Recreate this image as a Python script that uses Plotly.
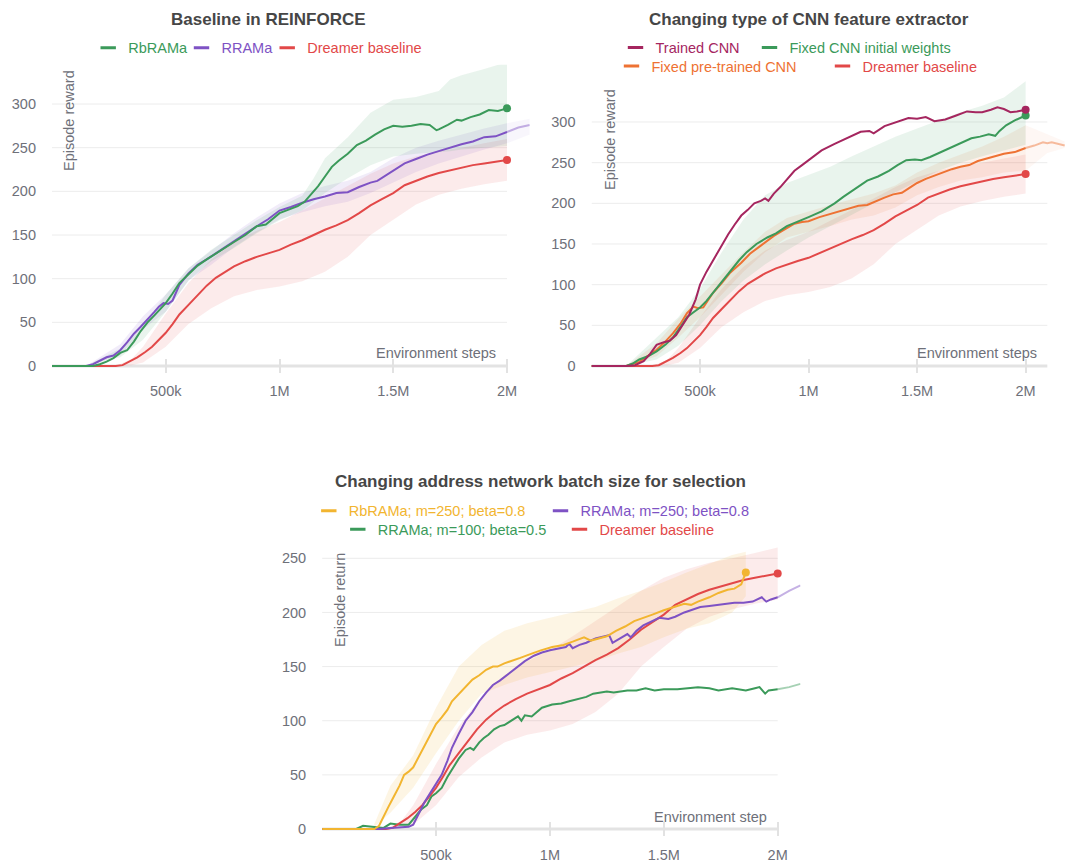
import plotly.graph_objects as go

W, H = 1066, 863
FONT = "Liberation Sans, Arial, sans-serif"
LABEL_GRAY = "#6e7079"
TITLE_GRAY = "#464646"

GREEN = "#3b9a5a"
PURPLE = "#7e52c4"
RED = "#e24848"
CRIMSON = "#a5265f"
ORANGE = "#ee7233"
YELLOW = "#f2b530"

# ---------------- data (x in thousands of environment steps) ----------------
X_TICKS = [500, 1000, 1500, 2000]
X_TICKTEXT = ["500k", "1M", "1.5M", "2M"]
Y_TICKS_TOP = [0, 50, 100, 150, 200, 250, 300]
Y_TICKS_BOTTOM = [0, 50, 100, 150, 200, 250]

# Dreamer baseline (shared by all three charts)
dreamer_x = [0, 100, 200, 280, 310, 340, 375, 410, 440, 470, 500, 530, 560, 600, 640, 680, 720, 760, 800,
             850, 900, 950, 1000, 1050, 1100, 1150, 1200, 1250, 1300, 1350, 1400, 1450, 1500, 1550, 1600,
             1650, 1700, 1750, 1800, 1850, 1900, 1950, 2000]
dreamer_y = [0, 0, 0, 0, 1, 5, 10, 16, 22, 30, 38, 48, 59, 70, 81, 92, 101, 108, 114,
             120, 125, 129, 133, 139, 144, 150, 156, 161, 167, 175, 184, 191, 198, 207, 212,
             217, 221, 224, 227, 230, 232, 234, 236]
dreamer_band_x = [280, 350, 400, 500, 600, 700, 800, 900, 1000, 1100, 1200, 1300, 1400, 1500, 1600, 1700, 1800, 1900, 2000]
dreamer_band_hi = [0, 8, 22, 60, 95, 122, 142, 155, 165, 178, 192, 206, 220, 232, 240, 246, 250, 255, 260]
dreamer_band_lo = [0, 1, 4, 22, 48, 66, 80, 87, 91, 97, 108, 125, 150, 168, 185, 196, 203, 208, 212]

# Chart 1: Baseline in REINFORCE
rbrama_x = [0, 150, 180, 210, 240, 270, 300, 330, 360, 390, 420, 450, 480, 500, 530, 560, 600, 640, 680, 720,
            760, 800, 850, 900, 940, 980, 1000, 1040, 1080, 1110, 1140, 1170, 1200, 1230, 1260, 1300, 1340,
            1380, 1420, 1460, 1500, 1540, 1580, 1620, 1660, 1690, 1700, 1740, 1780, 1800, 1840, 1880, 1920,
            1960, 2000]
rbrama_y = [0, 0, 0, 2, 5, 9, 15, 18, 28, 40, 50, 58, 67, 72, 83, 95, 105, 115, 122, 129,
            136, 142, 150, 160, 162, 170, 175, 179, 183, 188, 197, 206, 217, 228, 235, 243, 253,
            258, 265, 271, 275, 274, 275, 277, 276, 270, 271, 276, 282, 281, 285, 288, 293,
            292, 295]
rbrama_band_x = [150, 300, 400, 500, 600, 700, 800, 900, 1000, 1100, 1150, 1200, 1300, 1400, 1500, 1600, 1700, 1750, 1800, 1900, 2000]
rbrama_band_hi = [0, 20, 45, 82, 112, 133, 150, 167, 182, 195, 215, 238, 262, 290, 305, 308, 315, 328, 333, 340, 348]
rbrama_band_lo = [0, 10, 30, 62, 98, 120, 135, 152, 167, 178, 188, 198, 215, 230, 240, 243, 245, 246, 248, 250, 252]

rrama_x = [0, 150, 180, 210, 240, 270, 300, 330, 360, 390, 420, 450, 470, 490, 510, 530, 560, 600, 640, 680,
           720, 760, 800, 850, 900, 950, 1000, 1050, 1100, 1150, 1200, 1250, 1300, 1350, 1400, 1430, 1460,
           1500, 1550, 1600, 1650, 1700, 1750, 1800, 1850, 1900, 1950, 2000, 2050, 2100]
rrama_y = [0, 0, 2, 6, 10, 12, 18, 27, 37, 45, 53, 62, 68, 72, 71, 75, 93, 106, 116, 122,
           129, 136, 143, 152, 160, 168, 178, 182, 187, 191, 194, 198, 199, 205, 210, 212, 217,
           224, 232, 237, 242, 246, 250, 254, 257, 262, 263, 268, 273, 276]
rrama_band_x = [150, 300, 400, 500, 600, 700, 800, 900, 1000, 1100, 1200, 1300, 1400, 1500, 1600, 1700, 1800, 1900, 2000, 2100]
rrama_band_hi = [0, 25, 57, 82, 112, 132, 152, 170, 186, 198, 206, 212, 222, 238, 250, 258, 265, 272, 278, 283]
rrama_band_lo = [0, 12, 42, 62, 98, 116, 136, 153, 168, 176, 183, 188, 198, 210, 222, 232, 240, 248, 255, 265]

# Chart 2: Changing type of CNN feature extractor
trained_x = [0, 160, 200, 240, 270, 300, 330, 360, 390, 420, 450, 480, 500, 530, 560, 600, 630, 660, 690, 720,
             750, 780, 800, 815, 840, 870, 900, 935, 970, 1000, 1060, 1120, 1180, 1240, 1280, 1300, 1350,
             1410, 1460, 1500, 1540, 1580, 1630, 1680, 1730, 1770, 1800, 1840, 1870, 1900, 1930, 1960, 2000]
trained_y = [0, 0, 1, 6, 15, 26, 29, 31, 38, 50, 63, 82, 100, 116, 130, 148, 162, 174, 185, 192,
             200, 203, 206, 203, 212, 220, 229, 240, 247, 253, 265, 273, 280, 288, 289, 286, 295,
             300, 305, 304, 306, 301, 303, 308, 313, 312, 312, 315, 318, 316, 312, 313, 315]

fixedinit_x = [0, 160, 190, 220, 260, 300, 340, 375, 410, 440, 470, 500, 530, 560, 600, 640, 680, 715, 760,
               810, 850, 900, 950, 1000, 1060, 1120, 1160, 1200, 1240, 1270, 1320, 1370, 1410, 1450, 1490,
               1520, 1560, 1600, 1640, 1680, 1720, 1750, 1790, 1830, 1860, 1880, 1910, 1950, 2000]
fixedinit_y = [0, 0, 3, 8, 12, 18, 26, 35, 48, 60, 66, 72, 80, 90, 104, 118, 130, 140, 150,
               158, 163, 172, 178, 183, 190, 200, 208, 215, 222, 228, 233, 240, 247, 253, 254,
               253, 257, 262, 267, 272, 277, 280, 282, 285, 283, 289, 296, 302, 308]
fixedinit_band_x = [160, 300, 400, 500, 600, 700, 800, 900, 1000, 1100, 1200, 1300, 1400, 1500, 1600, 1700, 1800, 1900, 2000]
fixedinit_band_hi = [0, 35, 60, 95, 140, 180, 210, 225, 235, 245, 258, 270, 282, 292, 302, 312, 320, 330, 350]
fixedinit_band_lo = [0, 8, 25, 50, 80, 105, 125, 142, 158, 172, 186, 200, 214, 227, 240, 250, 258, 265, 272]

pretrained_x = [0, 160, 220, 260, 300, 340, 375, 410, 440, 470, 490, 515, 540, 560, 600, 640, 690, 730, 780,
                840, 890, 935, 970, 1000, 1050, 1090, 1140, 1180, 1230, 1270, 1310, 1350, 1390, 1430, 1470,
                1500, 1540, 1580, 1620, 1660, 1700, 1740, 1780, 1820, 1860, 1900, 1950, 2000, 2040, 2080,
                2100, 2120, 2150, 2180]
pretrained_y = [0, 0, 5, 12, 20, 30, 40, 52, 65, 73, 71, 72, 82, 90, 102, 115, 127, 138, 148,
                160, 168, 175, 177, 178, 183, 186, 190, 193, 197, 198, 203, 207, 211, 213, 220,
                225, 230, 234, 238, 242, 245, 247, 252, 255, 258, 261, 263, 268, 271, 275,
                274, 275, 273, 271]
pretrained_band_x = [160, 300, 400, 500, 600, 700, 800, 900, 1000, 1100, 1200, 1300, 1400, 1500, 1600, 1700, 1800, 1900, 2000, 2100, 2180]
pretrained_band_hi = [0, 28, 58, 85, 112, 140, 165, 182, 190, 198, 205, 212, 222, 238, 250, 260, 270, 282, 296, 285, 276]
pretrained_band_lo = [0, 12, 35, 60, 88, 116, 140, 158, 165, 172, 180, 185, 195, 210, 220, 228, 232, 238, 240, 262, 268]

# Chart 3: Changing address network batch size for selection
rb250_x = [0, 200, 230, 250, 270, 290, 315, 340, 360, 380, 400, 420, 440, 460, 480, 500, 525, 550, 570, 600,
           630, 660, 690, 720, 750, 770, 800, 830, 870, 920, 960, 1010, 1060, 1100, 1150, 1180, 1220, 1250,
           1290, 1330, 1370, 1400, 1450, 1500, 1550, 1590, 1620, 1650, 1700, 1740, 1780, 1810, 1840, 1860]
rb250_y = [0, 0, 0, 3, 12, 20, 30, 40, 50, 53, 57, 65, 73, 82, 90, 97, 103, 110, 118, 125,
           131, 138, 142, 147, 150, 150, 153, 155, 158, 162, 165, 168, 170, 173, 177, 174, 176, 178,
           183, 187, 192, 194, 198, 202, 205, 208, 207, 210, 214, 218, 221, 222, 226, 237]
rb250_band_x = [220, 300, 400, 500, 600, 700, 800, 900, 1000, 1100, 1200, 1300, 1400, 1500, 1600, 1700, 1800, 1860]
rb250_band_hi = [0, 40, 68, 112, 150, 170, 183, 190, 195, 200, 205, 213, 220, 228, 237, 245, 253, 256]
rb250_band_lo = [0, 15, 38, 70, 100, 125, 133, 140, 145, 150, 155, 162, 168, 177, 185, 190, 200, 215]

rr250_x = [0, 250, 300, 350, 380, 400, 420, 450, 480, 500, 525, 550, 570, 600, 630, 660, 690, 720, 750, 780,
           810, 850, 890, 930, 965, 1000, 1040, 1070, 1085, 1100, 1130, 1160, 1200, 1250, 1260, 1275, 1300,
           1340, 1355, 1380, 1410, 1450, 1480, 1520, 1550, 1590, 1630, 1660, 1700, 1740, 1780, 1810, 1850,
           1890, 1930, 1950, 1970, 2000, 2050, 2100]
rr250_y = [0, 0, 1, 2, 2, 4, 12, 25, 35, 42, 50, 63, 75, 88, 100, 108, 118, 126, 133, 137,
           142, 148, 155, 160, 163, 165, 167, 168, 171, 167, 170, 172, 176, 179, 179, 172, 175,
           180, 177, 183, 188, 192, 195, 194, 196, 200, 203, 205, 206, 207, 208, 209, 209,
           210, 214, 210, 212, 214, 220, 225]

rr100_x = [0, 150, 180, 220, 270, 300, 340, 380, 405, 435, 460, 480, 500, 525, 550, 570, 600, 630, 650, 665,
           690, 710, 730, 755, 780, 800, 830, 860, 875, 890, 920, 965, 1010, 1050, 1085, 1130, 1160, 1190,
           1250, 1280, 1340, 1380, 1420, 1460, 1500, 1560, 1600, 1650, 1700, 1740, 1800, 1860, 1900, 1920,
           1945, 1960, 2000, 2050, 2100]
rr100_y = [0, 0, 3, 2, 1, 5, 4, 4, 10, 18, 22, 30, 33, 38, 48, 55, 65, 73, 75, 73,
           80, 84, 87, 92, 95, 96, 100, 104, 100, 105, 104, 112, 115, 116, 118, 120, 122, 125,
           127, 126, 128, 128, 130, 128, 129, 129, 130, 131, 130, 128, 130, 128, 130, 131,
           125, 128, 129, 131, 134]

# ---------------- helpers ----------------
fig = go.Figure()
AX = {1: ("x", "y"), 2: ("x2", "y2"), 3: ("x3", "y3")}


def rgba(hexc, a):
    h = hexc.lstrip("#")
    return f"rgba({int(h[0:2], 16)},{int(h[2:4], 16)},{int(h[4:6], 16)},{a})"


def add_band(chart, xs, lo, hi, color, alpha=0.11):
    xa, ya = AX[chart]
    main = [i for i, x in enumerate(xs) if x <= 2000]
    tail = [i for i, x in enumerate(xs) if x >= 2000]
    for idx, a in ((main, alpha), (tail, alpha * 0.5)):
        if len(idx) < 2:
            continue
        bx = [xs[i] for i in idx] + [xs[i] for i in reversed(idx)]
        by = [hi[i] for i in idx] + [lo[i] for i in reversed(idx)]
        fig.add_trace(go.Scatter(x=bx, y=by, xaxis=xa, yaxis=ya, mode="lines", line=dict(width=0),
                                 fill="toself", fillcolor=rgba(color, a), showlegend=False,
                                 hoverinfo="skip"))


def add_line(chart, xs, ys, color, dot=False):
    xa, ya = AX[chart]
    main = [i for i, x in enumerate(xs) if x <= 2000]
    tail = [i for i, x in enumerate(xs) if x >= 2000]
    fig.add_trace(go.Scatter(x=[xs[i] for i in main], y=[ys[i] for i in main], xaxis=xa, yaxis=ya,
                             mode="lines", line=dict(color=color, width=2), showlegend=False))
    if len(tail) > 1:
        fig.add_trace(go.Scatter(x=[xs[i] for i in tail], y=[ys[i] for i in tail], xaxis=xa, yaxis=ya,
                                 mode="lines", line=dict(color=color, width=2), opacity=0.45,
                                 showlegend=False))
    if dot:
        fig.add_trace(go.Scatter(x=[xs[-1]], y=[ys[-1]], xaxis=xa, yaxis=ya, mode="markers",
                                 marker=dict(color=color, size=8), showlegend=False))


def add_legend_item(name, color, legend, width=None):
    extra = {} if width is None else dict(legendwidth=width)
    fig.add_trace(go.Scatter(x=[None], y=[None], xaxis="x", yaxis="y", mode="markers",
                             marker=dict(symbol="line-ew", size=11, color=color,
                                         line=dict(width=3, color=color)),
                             name=f"<span style='color:{color}'>{name}</span>",
                             legend=legend, showlegend=True, hoverinfo="skip", **extra))


# ---------------- chart 1 ----------------
add_band(1, dreamer_band_x, dreamer_band_lo, dreamer_band_hi, RED)
add_band(1, rrama_band_x, rrama_band_lo, rrama_band_hi, PURPLE)
add_band(1, rbrama_band_x, rbrama_band_lo, rbrama_band_hi, GREEN)
add_line(1, dreamer_x, dreamer_y, RED, dot=True)
add_line(1, rrama_x, rrama_y, PURPLE)
add_line(1, rbrama_x, rbrama_y, GREEN, dot=True)

# ---------------- chart 2 ----------------
add_band(2, dreamer_band_x, dreamer_band_lo, dreamer_band_hi, RED)
add_band(2, pretrained_band_x, pretrained_band_lo, pretrained_band_hi, ORANGE)
add_band(2, fixedinit_band_x, fixedinit_band_lo, fixedinit_band_hi, GREEN)
add_line(2, dreamer_x, dreamer_y, RED, dot=True)
add_line(2, pretrained_x, pretrained_y, ORANGE)
add_line(2, fixedinit_x, fixedinit_y, GREEN, dot=True)
add_line(2, trained_x, trained_y, CRIMSON, dot=True)

# ---------------- chart 3 ----------------
add_band(3, dreamer_band_x, dreamer_band_lo, dreamer_band_hi, RED)
add_band(3, rb250_band_x, rb250_band_lo, rb250_band_hi, YELLOW, alpha=0.13)
add_line(3, rr100_x, rr100_y, GREEN)
add_line(3, dreamer_x, dreamer_y, RED, dot=True)
add_line(3, rr250_x, rr250_y, PURPLE)
add_line(3, rb250_x, rb250_y, YELLOW, dot=True)

# ---------------- legends ----------------
add_legend_item("RbRAMa", GREEN, "legend", 48.3)
add_legend_item("RRAMa", PURPLE, "legend", 40.7)
add_legend_item("Dreamer baseline", RED, "legend")
add_legend_item("Trained CNN", CRIMSON, "legend2", 89)
add_legend_item("Fixed CNN initial weights", GREEN, "legend2")
add_legend_item("Fixed pre-trained CNN", ORANGE, "legend3", 166)
add_legend_item("Dreamer baseline", RED, "legend3")
add_legend_item("RbRAMa; m=250; beta=0.8", YELLOW, "legend4", 186.7)
add_legend_item("RRAMa; m=250; beta=0.8", PURPLE, "legend4")
add_legend_item("RRAMa; m=100; beta=0.5", GREEN, "legend5", 176.7)
add_legend_item("Dreamer baseline", RED, "legend5")


def legend_cfg(left_px, cy):
    return dict(x=left_px / W, y=1 - cy / H, xanchor="left", yanchor="middle", orientation="h",
                font=dict(family=FONT, size=14.5), bgcolor="rgba(0,0,0,0)",
                itemclick=False, itemdoubleclick=False)


# ---------------- axes ----------------
TICKFONT = dict(family=FONT, size=14.5, color=LABEL_GRAY)


def xaxis_cfg(left, right, rng, anchor):
    return dict(domain=[left / W, min(right / W, 1.0)], range=rng, anchor=anchor, showgrid=False,
                zeroline=False, showline=False, tickmode="array", tickvals=X_TICKS, ticktext=X_TICKTEXT,
                ticks="inside", ticklen=14, tickwidth=2, tickcolor="#e2e2e2", tickfont=TICKFONT,
                ticklabelstandoff=8, fixedrange=True)


def yaxis_cfg(top, bottom, rng, anchor, tickvals):
    return dict(domain=[1 - bottom / H, 1 - top / H], range=rng, anchor=anchor, showgrid=False,
                zeroline=False, showline=False, tickmode="array", tickvals=tickvals, ticks="",
                tickfont=TICKFONT, ticklabelstandoff=15, fixedrange=True)


# pixel geometry of the three plot areas
c1_x0, c1_unit = 52.0, 455.0 / 2000
c1_y0, c1_yunit = 366.0, 262.0 / 300
c2_x0, c2_unit = 591.5, 434.2 / 2000
c2_y0, c2_yunit = 366.0, 244.0 / 300
c3_x0, c3_unit = 322.1, 455.6 / 2000
c3_y0, c3_yunit = 829.0, 270.7 / 250

c1_xr, c1_yr = [0, 2100], [-8, 345]
c2_xr, c2_yr = [0, 2186], [-8.6, 352]
c3_xr, c3_yr = [0, 2100], [-6.5, 268]

shapes = []


def grid_shapes(xref, yref, ticks, xend, axis_end):
    out = []
    for v in ticks[1:]:
        out.append(dict(type="line", xref=xref, yref=yref, x0=0, x1=xend, y0=v, y1=v,
                        line=dict(color="#ececec", width=1), layer="below"))
    out.append(dict(type="line", xref=xref, yref=yref, x0=0, x1=axis_end, y0=0, y1=0,
                    line=dict(color="#e3e3e3", width=3), layer="below"))
    return out


shapes += grid_shapes("x", "y", Y_TICKS_TOP, 2000, 2000)
shapes += grid_shapes("x2", "y2", Y_TICKS_TOP, 2100, 2100)
shapes += grid_shapes("x3", "y3", Y_TICKS_BOTTOM, 2000, 2000)


def ann(text, px, py, size=14.5, color=LABEL_GRAY, bold=False, xanchor="center", angle=0):
    t = f"<b>{text}</b>" if bold else text
    return dict(text=t, x=px / W, y=1 - py / H, xref="paper", yref="paper", showarrow=False,
                xanchor=xanchor, yanchor="middle", textangle=angle,
                font=dict(family=FONT, size=size, color=color))


annotations = [
    ann("Baseline in REINFORCE", 268.5, 19.5, size=17, color=TITLE_GRAY, bold=True),
    ann("Changing type of CNN feature extractor", 809, 19.5, size=17, color=TITLE_GRAY, bold=True),
    ann("Changing address network batch size for selection", 540, 481.5, size=17, color=TITLE_GRAY, bold=True),
    ann("Episode reward", 69, 121, angle=-90),
    ann("Episode reward", 610, 140, angle=-90),
    ann("Episode return", 340, 600, angle=-90),
    ann("Environment steps", 498, 353, xanchor="right"),
    ann("Environment steps", 1039, 353, xanchor="right"),
    ann("Environment step", 769, 817, xanchor="right"),
]

fig.update_layout(
    width=W, height=H, margin=dict(l=0, r=0, t=0, b=0),
    paper_bgcolor="white", plot_bgcolor="rgba(0,0,0,0)",
    font=dict(family=FONT, color=LABEL_GRAY),
    showlegend=True,
    xaxis=xaxis_cfg(c1_x0, c1_x0 + c1_xr[1] * c1_unit, c1_xr, "y"),
    yaxis=yaxis_cfg(c1_y0 - c1_yr[1] * c1_yunit, c1_y0 - c1_yr[0] * c1_yunit, c1_yr, "x", Y_TICKS_TOP),
    xaxis2=xaxis_cfg(c2_x0, c2_x0 + c2_xr[1] * c2_unit, c2_xr, "y2"),
    yaxis2=yaxis_cfg(c2_y0 - c2_yr[1] * c2_yunit, c2_y0 - c2_yr[0] * c2_yunit, c2_yr, "x2", Y_TICKS_TOP),
    xaxis3=xaxis_cfg(c3_x0, c3_x0 + c3_xr[1] * c3_unit, c3_xr, "y3"),
    yaxis3=yaxis_cfg(c3_y0 - c3_yr[1] * c3_yunit, c3_y0 - c3_yr[0] * c3_yunit, c3_yr, "x3", Y_TICKS_BOTTOM),
    legend=legend_cfg(88.2, 47.7),
    legend2=legend_cfg(615.5, 47.5),
    legend3=legend_cfg(611.5, 66),
    legend4=legend_cfg(308.8, 510.7),
    legend5=legend_cfg(337.8, 529.3),
    shapes=shapes,
    annotations=annotations,
)

fig.write_html("out.html")
